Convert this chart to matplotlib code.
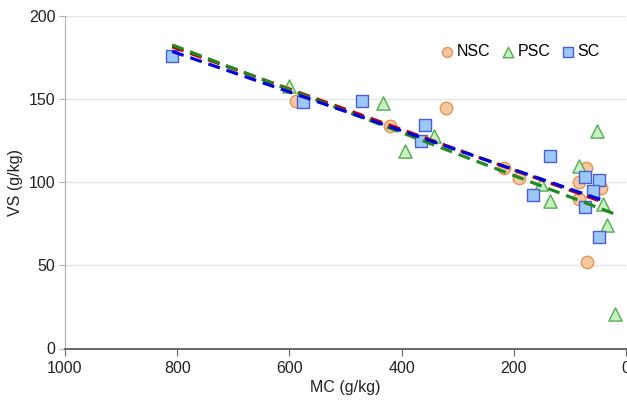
import matplotlib.pyplot as plt

plt.rcParams["font.family"] = ["Liberation Sans", "DejaVu Sans"]

# MC (g/kg) and VS (g/kg)
nsc_mc = [588, 321, 420, 218, 190, 71, 83, 44, 84, 70]
nsc_vs = [149, 144.5, 133.7, 108.4, 102.4, 108.4, 100.2, 96.4, 90, 52]

psc_mc = [600, 433, 342, 394, 151, 135, 83, 41, 34, 51, 20]
psc_vs = [158, 147.7, 128, 118.5, 99, 89, 110, 87, 74, 131, 21]

sc_mc = [809, 575, 471, 359, 366, 136, 166, 73, 49, 58, 73, 48]
sc_vs = [176, 148, 149, 134.5, 125, 116, 92.6, 103, 101.6, 94.6, 85, 67]

# dashed trend lines: (mc start, vs start, mc end, vs end)
trend_nsc = [809, 181.5, 43, 88.3]
trend_psc = [809, 182.6, 15.5, 80.3]
trend_sc = [809, 178.7, 43, 89.3]

fig = plt.figure(figsize=(6.27, 4.03), dpi=100)
ax = fig.add_axes([65 / 627, 54.5 / 403, 561 / 627, 332.5 / 403])

ax.scatter(nsc_mc, nsc_vs, marker="o", s=80, facecolor="#f8c79d",
           edgecolor="#df9658", linewidth=1, label="NSC", zorder=3)
ax.scatter(psc_mc, psc_vs, marker="^", s=90, facecolor="#c9f0c1",
           edgecolor="#52ad52", linewidth=1, label="PSC", zorder=3)
ax.scatter(sc_mc, sc_vs, marker="s", s=80, facecolor="#9cc8f8",
           edgecolor="#4b5fd4", linewidth=1, label="SC", zorder=3)

for t, c in [(trend_nsc, "#c00000"), (trend_psc, "#1f8a1f"), (trend_sc, "#0000dd")]:
    ax.plot([t[0], t[2]], [t[1], t[3]], color=c, lw=2.3,
            dashes=(3.8, 2.2), zorder=4)

ax.set_xlim(1000, 0)
ax.set_ylim(0, 200)
ax.set_xticks(range(1000, -1, -200))
ax.set_yticks(range(0, 201, 50))

ax.grid(axis="y", color="#e4e4e4", linewidth=1)
ax.set_axisbelow(True)

for side in ["top", "right"]:
    ax.spines[side].set_visible(False)
ax.spines["left"].set_color("#b0b0b0")
ax.spines["bottom"].set_color("#666666")
ax.spines["bottom"].set_linewidth(1.4)

ax.tick_params(axis="x", direction="out", length=5, color="#666666",
               labelsize=11.5, labelcolor="#222222", pad=4)
ax.tick_params(axis="y", direction="out", length=4, color="#b0b0b0",
               labelsize=11.5, labelcolor="#222222", pad=3)

ax.set_xlabel("MC (g/kg)", fontsize=11.5, color="#222222", labelpad=3)
ax.set_ylabel("VS (g/kg)", fontsize=11.5, color="#222222", labelpad=4)

ax.legend(loc="upper right", bbox_to_anchor=(0.965, 0.935), ncol=3,
          frameon=False, fontsize=11.5, handlelength=0.8, handletextpad=0.2,
          columnspacing=0.7, markerscale=0.8, borderaxespad=0)

fig.savefig("out.png", dpi=100)
